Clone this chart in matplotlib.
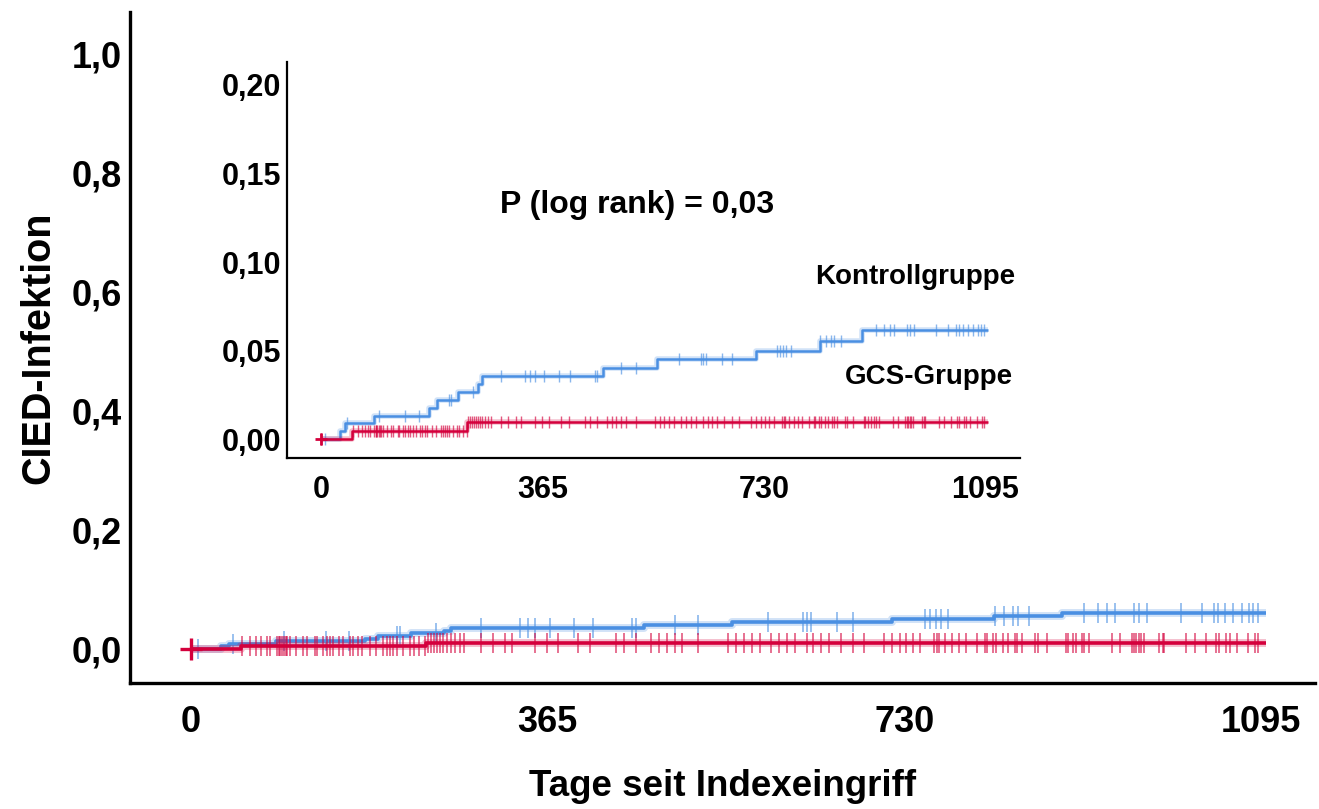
import numpy as np
import matplotlib
matplotlib.use("Agg")
import matplotlib.pyplot as plt

plt.rcParams['font.family'] = ['Liberation Sans', 'DejaVu Sans']
plt.rcParams['font.weight'] = 'bold'

kontroll_tage = [0, 31, 39, 87, 178, 192, 225, 259, 266, 464, 554, 717, 822, 891, 1100]
kontroll_wert = [0.0, 0.0045, 0.0088, 0.0131, 0.0176, 0.0221, 0.0266, 0.0310, 0.0355,
                 0.0400, 0.0453, 0.0500, 0.0556, 0.0614, 0.0614]
gcs_tage = [0, 51, 241, 1100]
gcs_wert = [0.0, 0.0045, 0.0096, 0.0096]

# zensierte Faelle (Tage)
kontroll_zens = [7, 43, 95, 138, 162, 211, 214, 251, 297, 337, 345, 352, 368, 392, 411, 451,
                 455, 495, 519, 590, 626, 630, 634, 661, 677, 751, 756, 762, 767, 775, 823,
                 832, 841, 846, 857, 914, 928, 937, 945, 965, 970, 978, 1013, 1034, 1047, 1051,
                 1058, 1066, 1075, 1082, 1087, 1092]
gcs_zens = [0, 0, 52, 61, 67, 72, 78, 81, 88, 90, 91, 93, 95, 97, 99, 102, 108, 115, 119, 127,
            129, 135, 139, 143, 146, 152, 156, 163, 166, 171, 175, 183, 190, 197, 201, 204,
            207, 211, 217, 224, 228, 234, 240, 243, 246, 249, 252, 255, 258, 262, 266, 270,
            275, 280, 297, 309, 321, 329, 352, 364, 376, 396, 408, 435, 443, 455, 471, 479,
            487, 495, 503, 519, 550, 558, 566, 574, 582, 594, 602, 610, 618, 630, 637, 645,
            653, 665, 677, 689, 709, 717, 725, 732, 739, 746, 760, 763, 765, 772, 779, 786,
            793, 804, 812, 814, 821, 824, 831, 836, 843, 845, 850, 864, 867, 876, 895, 897,
            902, 906, 912, 914, 919, 942, 951, 963, 965, 967, 970, 972, 975, 990, 994, 996,
            1018, 1027, 1038, 1049, 1052, 1059, 1063, 1070, 1081, 1089, 1092]

x_ticks = [0, 365, 730, 1095]
main_yticks = [0.0, 0.2, 0.4, 0.6, 0.8, 1.0]
inset_yticks = [0.0, 0.05, 0.10, 0.15, 0.20]

BLUE = '#4a8fe2'
RED = '#d4003c'


def step_value(tage, wert, t):
    idx = np.searchsorted(tage, t, side='right') - 1
    return np.asarray(wert)[idx]


def draw_curves(ax, lw, msize, mew):
    for tage, wert, zens, col in [(kontroll_tage, kontroll_wert, kontroll_zens, BLUE),
                                   (gcs_tage, gcs_wert, gcs_zens, RED)]:
        ax.step(tage, wert, where='post', color=col, lw=lw * 2.2, alpha=0.25,
                solid_capstyle='butt')
        ax.step(tage, wert, where='post', color=col, lw=lw, solid_capstyle='butt')
        zy = step_value(tage, wert, zens)
        ax.plot(zens, zy, linestyle='none', marker='|', markersize=msize,
                markeredgewidth=mew, color=col, alpha=0.65)
    # Startkreuz
    ax.plot([0], [0], linestyle='none', marker='+', markersize=msize * 1.1,
            markeredgewidth=mew * 2, color=RED)


def comma(v, nd):
    return f"{v:.{nd}f}".replace('.', ',')


fig = plt.figure(figsize=(13.19, 8.09), dpi=100)

# Hauptdiagramm
ax = fig.add_axes([0.0986, 0.1557, 0.8984, 0.8294])
draw_curves(ax, lw=2.6, msize=14, mew=1.2)
ax.set_xlim(-62, 1150)
ax.set_ylim(-0.057, 1.0706)
ax.set_xticks(x_ticks)
ax.set_xticklabels([str(t) for t in x_ticks])
ax.set_yticks(main_yticks)
ax.set_yticklabels([comma(v, 1) for v in main_yticks])
ax.tick_params(length=0, labelsize=26)
ax.tick_params(axis='x', pad=16)
ax.tick_params(axis='y', pad=6)
for s in ['top', 'right']:
    ax.spines[s].set_visible(False)
for s in ['left', 'bottom']:
    ax.spines[s].set_linewidth(2.4)
ax.set_xlabel('Tage seit Indexeingriff', fontsize=26.5, fontweight='bold', labelpad=21)
ax.set_ylabel('CIED-Infektion', fontsize=28.5, fontweight='bold', labelpad=10)

# Ausschnitt
ins = fig.add_axes([0.2176, 0.4339, 0.5557, 0.4895])
draw_curves(ins, lw=1.8, msize=8, mew=1.0)
ins.set_xlim(-56, 1152)
ins.set_ylim(-0.0107, 0.213)
ins.set_xticks(x_ticks)
ins.set_xticklabels([str(t) for t in x_ticks])
ins.set_yticks(inset_yticks)
ins.set_yticklabels([comma(v, 2) for v in inset_yticks])
ins.tick_params(length=0, labelsize=22)
ins.tick_params(axis='x', pad=12)
ins.tick_params(axis='y', pad=4)
ins.patch.set_alpha(0)
for s in ['top', 'right']:
    ins.spines[s].set_visible(False)
for s in ['left', 'bottom']:
    ins.spines[s].set_linewidth(1.6)

fig.text(637 / 1319, 1 - 205 / 809, 'P (log rank) = 0,03', fontsize=23, fontweight='bold',
         ha='center', va='center')
fig.text(1015 / 1319, 1 - 277 / 809, 'Kontrollgruppe', fontsize=20, fontweight='bold',
         ha='right', va='center')
fig.text(1013 / 1319, 1 - 377 / 809, 'GCS-Gruppe', fontsize=20, fontweight='bold',
         ha='right', va='center')

fig.savefig('out.png', dpi=100)
